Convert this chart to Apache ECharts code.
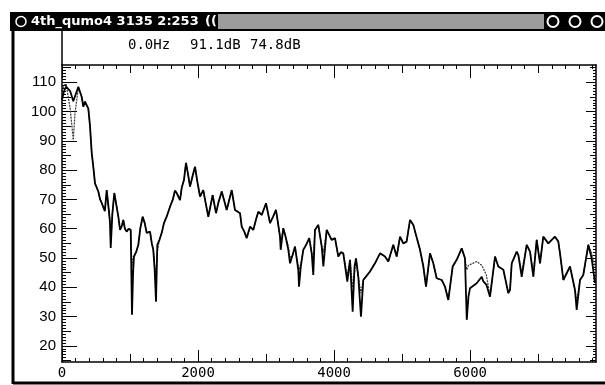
<!DOCTYPE html>
<html>
<head>
<meta charset="utf-8">
<style>
  html, body { margin: 0; padding: 0; background: #fff; }
  #chart { width: 605px; height: 385px; }
</style>
<script src="https://cdn.jsdelivr.net/npm/echarts@6/dist/echarts.min.js"></script>
</head>
<body>
<div id="chart"></div>
<script>
// frequency points (Hz) and the two spectra (dB)
var freqs = [0,30,60,120,166,191,240,290,313,338,363,387,412,437,460,485,534,560,584,603,630,657,690,706,716,740,769,800,828,853,880,901,925,951,980,1010,1029,1045,1058,1090,1122,1150,1186,1215,1245,1270,1294,1320,1342,1362,1382,1401,1430,1466,1500,1539,1588,1630,1660,1686,1735,1760,1793,1810,1823,1850,1882,1920,1955,1990,2029,2077,2110,2151,2215,2264,2300,2348,2380,2421,2460,2495,2543,2617,2642,2680,2715,2764,2812,2850,2886,2936,2999,3058,3100,3146,3205,3215,3253,3290,3327,3352,3390,3425,3474,3484,3510,3547,3600,3635,3671,3694,3719,3768,3818,3842,3891,3964,4013,4062,4100,4135,4194,4234,4273,4300,4322,4356,4395,4429,4480,4528,4601,4675,4748,4797,4870,4920,4969,5017,5066,5116,5165,5223,5263,5312,5351,5410,5458,5508,5582,5630,5679,5743,5802,5876,5924,5950,5975,5998,6096,6170,6194,6240,6292,6366,6414,6488,6561,6586,6611,6684,6709,6758,6831,6880,6929,6978,7027,7075,7100,7149,7174,7247,7296,7321,7370,7468,7541,7566,7615,7663,7737,7786,7835];
var levelA = [104,107,108.5,107,103.5,104,108.5,105,101.7,103.4,104,101,95,85.8,81.2,75.5,72.7,70,68.8,69,66,73.2,66,62,53.4,65,72.2,68,64.1,59.6,61,63,60,59,60,59.6,30.6,45,50.5,52,54.5,60,64.1,62,58.6,58,59,55,52.8,46,35.1,54.5,56,58.6,62,64.1,67.5,70,73,72.2,69.8,74,76.6,80,82.5,79,74.4,78,81.2,76,71,73.2,69,64.1,71.5,65.3,69,72.7,70,66.4,70,73.2,66.4,65.3,60.7,59,56.8,60.7,59.6,63,65.8,64.7,68.7,61.9,64,66.4,57.3,52.8,60.2,57,52.8,48.2,51,53.9,45.9,40.2,47,52.8,55,56.8,51.6,44.2,59.6,61.3,53.9,47.1,59.6,56.2,56.8,50.5,52,51.6,41.9,49.4,31.7,47,49.9,43.6,30,42.5,44,45.4,48.2,51.6,50.5,48.8,54.5,50.5,57.3,55,55.6,63,61.3,56.2,52.8,47.1,40.2,51.6,48.2,43.1,42.5,40.2,35.7,47.1,49.4,53.3,49.9,28.9,36.8,39.7,41.4,43.6,42,40.8,36.8,50.5,47.1,46,38,39.1,48.2,52.2,51,43.6,54.5,52.2,43.6,56.2,48.2,57.3,56.8,55,55.6,57.3,55.6,51.6,42.5,47.1,39.1,32.3,42.5,44.2,54.5,49.9,41.5];
var levelB = [107,109,109.5,101,90.3,99.5,108,105,101.7,103.4,104,101,95,85.8,81.2,75.5,72.7,70,68.8,69,66,73.2,66,62,55,65,72.2,68,64.1,59.6,61,63,60,59,60,59.6,47,50,51,52,54.5,60,64.1,62,58.6,58,59,55,52.8,48,44,52,56,58.6,62,64.1,67.5,70,73,72.2,69.8,74,76.6,80,82.5,79,74.4,78,81.2,76,71,73.2,69,64.1,71.5,65.3,69,72.7,70,66.4,70,73.2,66.4,65.3,60.7,59,56.8,60.7,59.6,63,65.8,64.7,68.7,61.9,64,66.4,57.3,55,60.2,57,54,50,51,53.9,47,46,48,52.8,55,56.8,51.6,50,59.6,61.3,53.9,52,59.6,56.2,56.8,50.5,52,51.6,44,49.4,40,45,49.9,43.6,38,42.5,44,45.4,48.2,51.6,50.5,48.8,54.5,50.5,57.3,55,55.6,63,61.3,56.2,52.8,47.1,40.2,51.6,48.2,43.1,42.5,40.2,35.7,47.1,49.4,53.3,49.9,46,47.5,47,48.8,47.5,46.5,44,36.8,50.5,47.1,46,38,39.1,48.2,52.2,51,45,54.5,52.2,45,56.2,48.2,57.3,56.8,55,55.6,57.3,55.6,51.6,42.5,47.1,39.1,35,42.5,44.2,54.5,51.6,47];
// tick labels
var xLabels = [0, 2000, 4000, 6000];
var yLabels = [20, 30, 40, 50, 60, 70, 80, 90, 100, 110];
// header readout
var readout = ['0.0Hz', '91.1dB', '74.8dB'];

var xMin = 0, xMax = 7850;
var yMin = 14.5, yMax = 115.9;

function range(a, b, step) {
  var out = [];
  for (var v = a; v <= b; v += step) out.push(v);
  return out;
}
function pairs(xs, ys) {
  var out = [];
  for (var i = 0; i < xs.length; i++) out.push([xs[i], ys[i]]);
  return out;
}
function plain(v) { return String(v); }

var monoFont = '"DejaVu Sans Mono", monospace';

// one x axis per tick length (minor 200, mid 1000, major 2000)
function xAxisDef(pos, ticks, len, showLine, labels) {
  return {
    type: 'value', position: pos, min: xMin, max: xMax,
    axisLine: { show: showLine, onZero: false, lineStyle: { color: '#000', width: 1.5 } },
    axisTick: { show: true, inside: true, length: len, customValues: ticks, lineStyle: { color: '#000', width: 1 } },
    axisLabel: labels ? { show: true, customValues: labels, formatter: plain, color: '#000', fontFamily: monoFont, fontSize: 14, margin: 4 } : { show: false },
    splitLine: { show: false }
  };
}
function yAxisDef(pos, ticks, len, showLine, labels) {
  return {
    type: 'value', position: pos, min: yMin, max: yMax,
    axisLine: { show: showLine, onZero: false, lineStyle: { color: '#000', width: 1.5 } },
    axisTick: { show: true, inside: true, length: len, customValues: ticks, lineStyle: { color: '#000', width: 1 } },
    axisLabel: labels ? { show: true, customValues: labels, formatter: plain, color: '#000', fontFamily: '"Liberation Sans", Arial, sans-serif', fontSize: 15, margin: 6 } : { show: false },
    splitLine: { show: false }
  };
}

var myChart = echarts.init(document.getElementById('chart'));

var option = {
  animation: false,
  backgroundColor: '#fff',
  grid: { left: 62, right: 9, top: 65, bottom: 23 },
  xAxis: [
    xAxisDef('bottom', range(0, 7800, 200), 4, true, xLabels),
    xAxisDef('bottom', range(0, 7000, 1000), 8, false, null),
    xAxisDef('bottom', range(0, 6000, 2000), 12, false, null),
    xAxisDef('top', range(0, 7800, 200), 4, true, null),
    xAxisDef('top', range(0, 7000, 1000), 8, false, null),
    xAxisDef('top', range(0, 6000, 2000), 13, false, null)
  ],
  yAxis: [
    yAxisDef('left', range(15, 115, 1), 4, true, yLabels),
    yAxisDef('left', range(15, 115, 5), 9, false, null),
    yAxisDef('left', range(20, 110, 10), 15, false, null),
    yAxisDef('right', range(15, 115, 1), 3, true, null),
    yAxisDef('right', range(15, 115, 5), 6, false, null),
    yAxisDef('right', range(20, 110, 10), 10, false, null)
  ],
  series: [
    {
      type: 'line', xAxisIndex: 0, yAxisIndex: 0, symbol: 'none',
      data: pairs(freqs, levelB),
      lineStyle: { color: '#333', width: 1.2, type: [2, 1] }
    },
    {
      type: 'line', xAxisIndex: 0, yAxisIndex: 0, symbol: 'none',
      data: pairs(freqs, levelA),
      lineStyle: { color: '#000', width: 1.8 }
    }
  ],
  // window chrome round the plot
  graphic: [
    { type: 'rect', shape: { x: 10, y: 12, width: 595, height: 19 }, style: { fill: '#000' } },
    { type: 'circle', shape: { cx: 21, cy: 21.5, r: 5 }, style: { fill: '#000', stroke: '#fff', lineWidth: 1.5 } },
    { type: 'text', x: 31, y: 21.5, style: { text: '4th_qumo4 3135 2:253', fill: '#fff', font: 'bold 13px "DejaVu Sans", sans-serif', verticalAlign: 'middle' } },
    { type: 'text', x: 205, y: 21.5, style: { text: '((', fill: '#fff', font: 'bold 13px "DejaVu Sans", sans-serif', verticalAlign: 'middle' } },
    { type: 'rect', shape: { x: 218, y: 14, width: 326, height: 15 }, style: { fill: '#9c9c9c' } },
    { type: 'circle', shape: { cx: 553, cy: 21.5, r: 5.5 }, style: { fill: '#000', stroke: '#fff', lineWidth: 2 } },
    { type: 'circle', shape: { cx: 575, cy: 21.5, r: 5.5 }, style: { fill: '#000', stroke: '#fff', lineWidth: 2 } },
    { type: 'circle', shape: { cx: 597, cy: 21.5, r: 5.5 }, style: { fill: '#000', stroke: '#fff', lineWidth: 2 } },
    { type: 'line', shape: { x1: 13, y1: 31, x2: 13, y2: 384 }, style: { stroke: '#000', lineWidth: 3 } },
    { type: 'line', shape: { x1: 62, y1: 31, x2: 62, y2: 65 }, style: { stroke: '#000', lineWidth: 1.5 } },
    { type: 'line', shape: { x1: 13, y1: 383, x2: 605, y2: 383 }, style: { stroke: '#000', lineWidth: 3 } },
    { type: 'text', x: 128, y: 45, style: { text: readout[0], fill: '#000', font: '14px ' + monoFont, verticalAlign: 'middle' } },
    { type: 'text', x: 190, y: 45, style: { text: readout[1], fill: '#000', font: '14px ' + monoFont, verticalAlign: 'middle' } },
    { type: 'text', x: 250, y: 45, style: { text: readout[2], fill: '#000', font: '14px ' + monoFont, verticalAlign: 'middle' } }
  ]
};
myChart.setOption(option);
</script>
</body>
</html>
